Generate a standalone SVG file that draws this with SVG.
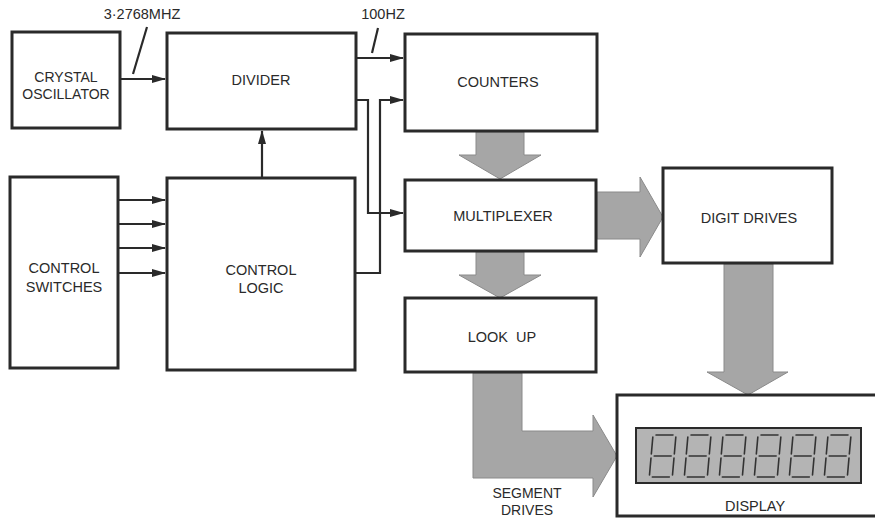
<svg xmlns="http://www.w3.org/2000/svg" width="875" height="519" viewBox="0 0 875 519">
<style>
.box{fill:#fff;stroke:#2a2a2a;stroke-width:3}
.lbl{font-family:"Liberation Sans",Arial,sans-serif;font-size:14.5px;fill:#2a2a2a;text-anchor:middle}
.sm{font-size:14px}
.wire{fill:none;stroke:#2a2a2a;stroke-width:2.2}
.fat{fill:#a6a6a6;stroke:#8a8a8a;stroke-width:1}
.seg{fill:none;stroke:#333;stroke-width:1.6;stroke-linecap:round}
</style>
<defs>
<marker id="ah" markerWidth="14" markerHeight="10" refX="13" refY="5" orient="auto" markerUnits="userSpaceOnUse">
<path d="M0,1 L14,5 L0,9 Z" fill="#2a2a2a"/>
</marker>
<g id="digit" transform="skewX(-5)">
<path class="seg" d="M4,0 L21,0 M24,2 L24,19 M24,23 L24,40 M21,42 L4,42 M1,40 L1,23 M1,19 L1,2 M4,21 L21,21"/>
</g>
</defs>
<rect width="875" height="519" fill="#fff"/>

<g id="connectors">
<path class="wire" d="M120,79 L165,79" marker-end="url(#ah)"/>
<path class="wire" d="M356,58 L403,58" marker-end="url(#ah)"/>
<path class="wire" d="M356,100 L368,100 L368,213 L403,213" marker-end="url(#ah)"/>
<path class="wire" d="M355,273 L380,273 L380,100 L403,100" marker-end="url(#ah)"/>
<path class="wire" d="M262,178 L262,131" marker-end="url(#ah)"/>
<path class="wire" d="M118,200 L165,200" marker-end="url(#ah)"/>
<path class="wire" d="M118,224 L165,224" marker-end="url(#ah)"/>
<path class="wire" d="M118,248 L165,248" marker-end="url(#ah)"/>
<path class="wire" d="M118,273 L165,273" marker-end="url(#ah)"/>
<line class="wire" x1="147" y1="27" x2="133" y2="74" stroke-width="1.5"/>
<line class="wire" x1="378" y1="28" x2="372" y2="53" stroke-width="1.5"/>
<path class="fat" d="M476,132 L524,132 L524,155 L541,155 L500,179 L459,155 L476,155 Z"/>
<path class="fat" d="M476,252 L524,252 L524,275 L541,275 L500,298 L459,275 L476,275 Z"/>
<path class="fat" d="M597,192 L640,192 L640,177 L663,217 L640,257 L640,239 L597,239 Z"/>
<path class="fat" d="M724,264 L773,264 L773,372 L788,372 L748,395 L707,372 L724,372 Z"/>
<path class="fat" d="M473,373 L522,373 L522,431 L593,431 L593,415 L617,456 L593,497 L593,478 L473,478 Z"/>
<text class="lbl" x="142" y="19">3·2768MHZ</text>
<text class="lbl" x="383" y="19">100HZ</text>
<text class="lbl sm" x="527" y="498">SEGMENT</text>
<text class="lbl sm" x="527" y="515">DRIVES</text>
</g>

<g id="crystal">
<rect class="box" x="12" y="32" width="108" height="96"/>
<text class="lbl sm" x="66" y="82">CRYSTAL</text>
<text class="lbl sm" x="66" y="99">OSCILLATOR</text>
</g>
<g id="divider">
<rect class="box" x="167" y="33" width="189" height="96"/>
<text class="lbl" x="261" y="85">DIVIDER</text>
</g>
<g id="counters">
<rect class="box" x="405" y="34" width="192" height="97"/>
<text class="lbl" x="498" y="87">COUNTERS</text>
</g>
<g id="switches">
<rect class="box" x="10" y="177" width="108" height="191"/>
<text class="lbl" x="64" y="273">CONTROL</text>
<text class="lbl" x="64" y="292">SWITCHES</text>
</g>
<g id="logic">
<rect class="box" x="167" y="178" width="188" height="192"/>
<text class="lbl" x="261" y="275">CONTROL</text>
<text class="lbl" x="261" y="293">LOGIC</text>
</g>
<g id="multiplexer">
<rect class="box" x="405" y="180" width="191" height="71"/>
<text class="lbl" x="503" y="221">MULTIPLEXER</text>
</g>
<g id="lookup">
<rect class="box" x="405" y="298" width="191" height="74"/>
<text class="lbl" x="502" y="342" xml:space="preserve">LOOK  UP</text>
</g>
<g id="digitdrives">
<rect class="box" x="663" y="168" width="169" height="95"/>
<text class="lbl" x="749" y="223">DIGIT DRIVES</text>
</g>
<g id="display">
<rect class="box" x="617" y="395" width="265" height="121"/>
<rect x="636" y="428" width="225" height="55" fill="#b4b4b4" stroke="#2a2a2a" stroke-width="2"/>
<use href="#digit" x="652" y="435"/>
<use href="#digit" x="687" y="435"/>
<use href="#digit" x="722" y="435"/>
<use href="#digit" x="757" y="435"/>
<use href="#digit" x="792" y="435"/>
<use href="#digit" x="827" y="435"/>
<text class="lbl" x="755" y="511">DISPLAY</text>
</g>
</svg>
